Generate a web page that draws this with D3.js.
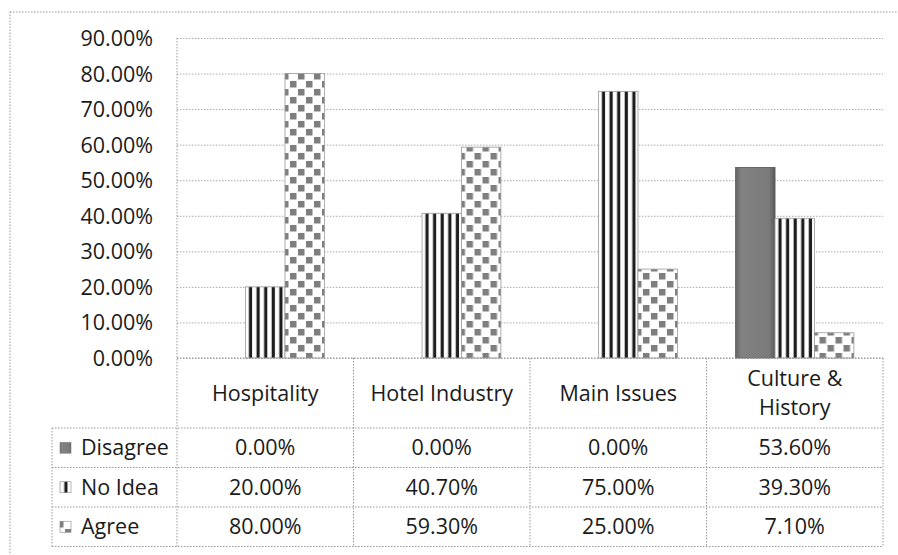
<!DOCTYPE html>
<html lang="en">
<head>
    <meta charset="UTF-8">
    <title>Perception by Topic</title>
    <script src="https://cdn.jsdelivr.net/npm/d3@7"></script>
    <style>
        body { margin: 0; background: #fff; }
        text { font-family: "Open Sans", "Noto Sans", sans-serif; fill: #1a1a1a; }
        .grid line { stroke: #aaa; stroke-dasharray: 1.5 1.5; }
        .grid path { display: none; }
        .tbl { stroke: #999; stroke-dasharray: 1.5 1.5; fill: none; }
    </style>
</head>
<body>
    <div id="chart"></div>
    <script>
        // data
        const categories = ["Hospitality", "Hotel Industry", "Main Issues", "Culture & History"];
        const seriesNames = ["Disagree", "No Idea", "Agree"];
        const disagree = [0, 0, 0, 53.6];
        const noIdea = [20, 40.7, 75, 39.3];
        const agree = [80, 59.3, 25, 7.1];
        const yTicks = [0, 10, 20, 30, 40, 50, 60, 70, 80, 90];

        const seriesValues = [disagree, noIdea, agree];

        const W = 898, H = 555;
        const plot = { left: 177, right: 883, top: 38, bottom: 358 };
        const legendLeft = 52;
        const rowH = 39.5;
        const headerBottom = 428;
        const fontSize = "21.5px";

        const svg = d3.select("#chart").append("svg")
            .attr("width", W)
            .attr("height", H);

        // patterns
        const defs = svg.append("defs");
        const grad = defs.append("linearGradient").attr("id", "disGrad")
            .attr("x1", 0).attr("x2", 1).attr("y1", 0).attr("y2", 0);
        grad.append("stop").attr("offset", "0%").attr("stop-color", "#666");
        grad.append("stop").attr("offset", "15%").attr("stop-color", "#828282");
        grad.append("stop").attr("offset", "85%").attr("stop-color", "#7a7a7a");
        grad.append("stop").attr("offset", "100%").attr("stop-color", "#5a5a5a");

        const stripes = defs.append("pattern").attr("id", "stripes")
            .attr("patternUnits", "userSpaceOnUse")
            .attr("width", 7.6).attr("height", 10);
        stripes.append("rect").attr("width", 7.6).attr("height", 10).attr("fill", "#fff");
        stripes.append("rect").attr("x", 3.5).attr("width", 3.2).attr("height", 10).attr("fill", "#1e1e1e");

        const checker = defs.append("pattern").attr("id", "checker")
            .attr("patternUnits", "userSpaceOnUse")
            .attr("width", 16).attr("height", 16);
        checker.append("rect").attr("width", 16).attr("height", 16).attr("fill", "#fff");
        checker.append("rect").attr("x", 1).attr("y", 1).attr("width", 6.5).attr("height", 6.5).attr("fill", "#7e7e7e");
        checker.append("rect").attr("x", 9).attr("y", 9).attr("width", 6.5).attr("height", 6.5).attr("fill", "#7e7e7e");

        const fills = ["url(#disGrad)", "url(#stripes)", "url(#checker)"];

        // outer frame (only left and top visible in the scan)
        svg.append("rect").attr("class", "tbl")
            .attr("x", 10).attr("y", 12)
            .attr("width", W + 20).attr("height", H + 20);

        // scales
        const y = d3.scaleLinear().domain([0, 90]).range([plot.bottom, plot.top]);
        const x0 = d3.scaleBand().domain(categories).range([plot.left, plot.right]);
        const pad = x0.bandwidth() * 0.165;
        const x1 = d3.scaleBand().domain(seriesNames).range([pad, x0.bandwidth() - pad]);

        // gridlines
        svg.append("g").attr("class", "grid")
            .attr("transform", `translate(${plot.left},0)`)
            .call(d3.axisLeft(y).tickValues(yTicks).tickSize(-(plot.right - plot.left)).tickFormat(""));

        // y labels
        const yAxis = svg.append("g")
            .attr("transform", `translate(${plot.left},0)`)
            .call(d3.axisLeft(y).tickValues(yTicks).tickSize(0).tickPadding(24)
                .tickFormat(d => d.toFixed(2) + "%"));
        yAxis.select(".domain").remove();
        yAxis.selectAll("text").style("font-size", fontSize).attr("dy", "0.35em");

        // bars
        const groups = svg.append("g").selectAll("g")
            .data(categories)
            .join("g")
            .attr("transform", d => `translate(${x0(d)},0)`);

        groups.selectAll("rect")
            .data((c, i) => seriesNames.map((s, j) => ({ s, j, v: seriesValues[j][i] })))
            .join("rect")
            .filter(d => d.v > 0)
            .attr("x", d => x1(d.s))
            .attr("width", x1.bandwidth())
            .attr("y", d => y(d.v))
            .attr("height", d => y(0) - y(d.v))
            .attr("fill", d => fills[d.j])
            .attr("stroke", d => d.j === 0 ? "#555" : "#999")
            .attr("stroke-width", 0.8);

        // data table lines
        const tableBottom = headerBottom + rowH * seriesNames.length;
        const tbl = svg.append("g");
        tbl.append("line").attr("class", "tbl")
            .attr("x1", plot.left).attr("x2", plot.left)
            .attr("y1", plot.top).attr("y2", tableBottom);
        tbl.append("line").attr("class", "tbl")
            .attr("x1", plot.left).attr("x2", plot.right)
            .attr("y1", plot.bottom).attr("y2", plot.bottom);
        categories.forEach(c => {
            tbl.append("line").attr("class", "tbl")
                .attr("x1", x0(c) + x0.bandwidth()).attr("x2", x0(c) + x0.bandwidth())
                .attr("y1", plot.bottom).attr("y2", tableBottom);
        });
        tbl.append("line").attr("class", "tbl")
            .attr("x1", legendLeft).attr("x2", legendLeft)
            .attr("y1", headerBottom).attr("y2", tableBottom);
        for (let r = 0; r <= seriesNames.length; r++) {
            tbl.append("line").attr("class", "tbl")
                .attr("x1", legendLeft).attr("x2", plot.right)
                .attr("y1", headerBottom + r * rowH).attr("y2", headerBottom + r * rowH);
        }

        // category headers
        const headMid = (plot.bottom + headerBottom) / 2;
        categories.forEach(c => {
            const words = c === "Culture & History" ? ["Culture &", "History"] : [c];
            const t = svg.append("text")
                .attr("x", x0(c) + x0.bandwidth() / 2)
                .attr("text-anchor", "middle")
                .style("font-size", fontSize);
            words.forEach((w, i) => {
                t.append("tspan")
                    .attr("x", x0(c) + x0.bandwidth() / 2)
                    .attr("y", headMid + (i - (words.length - 1) / 2) * 29)
                    .attr("dy", "0.35em")
                    .text(w);
            });
        });

        // rows
        seriesNames.forEach((s, j) => {
            const cy = headerBottom + rowH * j + rowH / 2;
            svg.append("rect")
                .attr("x", legendLeft + 8).attr("y", cy - 5.5)
                .attr("width", 11).attr("height", 11)
                .attr("fill", fills[j])
                .attr("stroke", "#888").attr("stroke-width", 0.6);
            svg.append("text")
                .attr("x", legendLeft + 29).attr("y", cy).attr("dy", "0.35em")
                .style("font-size", fontSize)
                .text(s);
            categories.forEach((c, i) => {
                svg.append("text")
                    .attr("x", x0(c) + x0.bandwidth() / 2).attr("y", cy).attr("dy", "0.35em")
                    .attr("text-anchor", "middle")
                    .style("font-size", fontSize)
                    .text(seriesValues[j][i].toFixed(2) + "%");
            });
        });
    </script>
</body>
</html>
